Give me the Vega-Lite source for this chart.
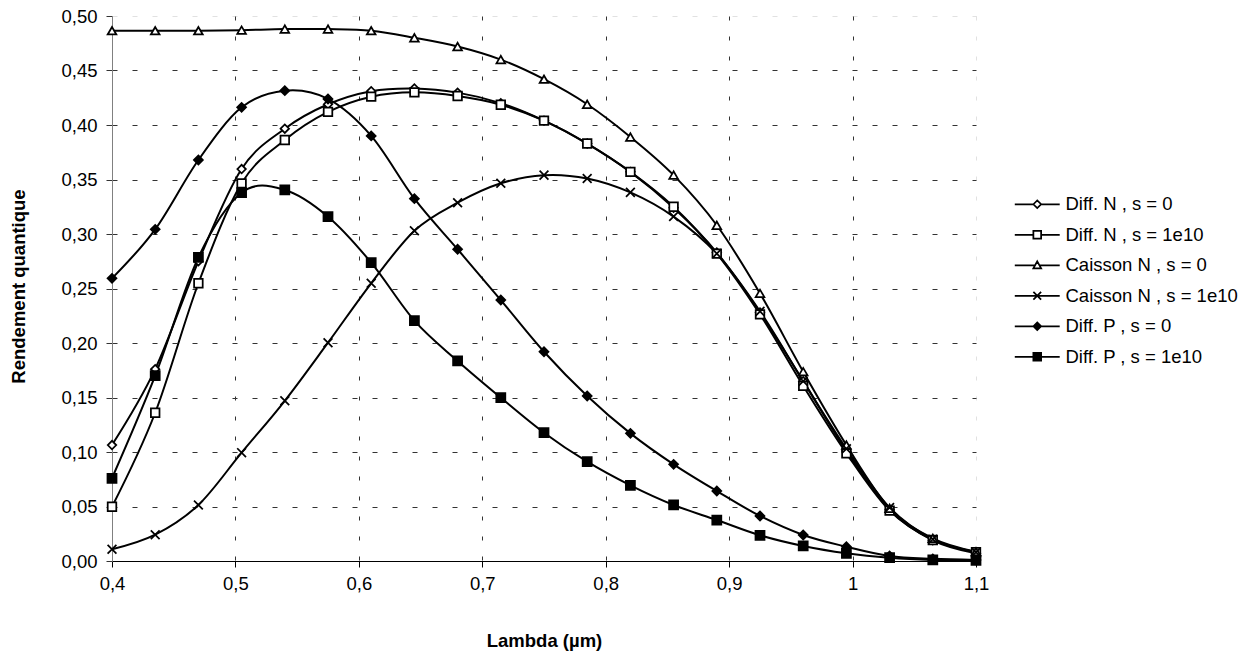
{
  "$schema": "https://vega.github.io/schema/vega-lite/v6.json",
  "width": 864,
  "height": 545,
  "autosize": "none",
  "padding": {"left": 112, "top": 16, "right": 276, "bottom": 93},
  "background": "white",
  "config": {"font": "Liberation Sans", "view": {"stroke": null}},
  "datasets": {
    "rows": [
      {"lambda": 0.4, "series": "Diff. N , s = 0", "value": 0.1064},
      {"lambda": 0.435, "series": "Diff. N , s = 0", "value": 0.176},
      {"lambda": 0.47, "series": "Diff. N , s = 0", "value": 0.275},
      {"lambda": 0.505, "series": "Diff. N , s = 0", "value": 0.3596},
      {"lambda": 0.54, "series": "Diff. N , s = 0", "value": 0.3966},
      {"lambda": 0.575, "series": "Diff. N , s = 0", "value": 0.419},
      {"lambda": 0.61, "series": "Diff. N , s = 0", "value": 0.431},
      {"lambda": 0.645, "series": "Diff. N , s = 0", "value": 0.4335},
      {"lambda": 0.68, "series": "Diff. N , s = 0", "value": 0.4297},
      {"lambda": 0.715, "series": "Diff. N , s = 0", "value": 0.42},
      {"lambda": 0.75, "series": "Diff. N , s = 0", "value": 0.404},
      {"lambda": 0.785, "series": "Diff. N , s = 0", "value": 0.383},
      {"lambda": 0.82, "series": "Diff. N , s = 0", "value": 0.357},
      {"lambda": 0.855, "series": "Diff. N , s = 0", "value": 0.324},
      {"lambda": 0.89, "series": "Diff. N , s = 0", "value": 0.283},
      {"lambda": 0.925, "series": "Diff. N , s = 0", "value": 0.228},
      {"lambda": 0.96, "series": "Diff. N , s = 0", "value": 0.165},
      {"lambda": 0.995, "series": "Diff. N , s = 0", "value": 0.101},
      {"lambda": 1.03, "series": "Diff. N , s = 0", "value": 0.047},
      {"lambda": 1.065, "series": "Diff. N , s = 0", "value": 0.019},
      {"lambda": 1.1, "series": "Diff. N , s = 0", "value": 0.007},

      {"lambda": 0.4, "series": "Diff. N , s = 1e10", "value": 0.0498},
      {"lambda": 0.435, "series": "Diff. N , s = 1e10", "value": 0.136},
      {"lambda": 0.47, "series": "Diff. N , s = 1e10", "value": 0.2548},
      {"lambda": 0.505, "series": "Diff. N , s = 1e10", "value": 0.3465},
      {"lambda": 0.54, "series": "Diff. N , s = 1e10", "value": 0.3862},
      {"lambda": 0.575, "series": "Diff. N , s = 1e10", "value": 0.412},
      {"lambda": 0.61, "series": "Diff. N , s = 1e10", "value": 0.426},
      {"lambda": 0.645, "series": "Diff. N , s = 1e10", "value": 0.43},
      {"lambda": 0.68, "series": "Diff. N , s = 1e10", "value": 0.4266},
      {"lambda": 0.715, "series": "Diff. N , s = 1e10", "value": 0.4186},
      {"lambda": 0.75, "series": "Diff. N , s = 1e10", "value": 0.404},
      {"lambda": 0.785, "series": "Diff. N , s = 1e10", "value": 0.383},
      {"lambda": 0.82, "series": "Diff. N , s = 1e10", "value": 0.357},
      {"lambda": 0.855, "series": "Diff. N , s = 1e10", "value": 0.325},
      {"lambda": 0.89, "series": "Diff. N , s = 1e10", "value": 0.282},
      {"lambda": 0.925, "series": "Diff. N , s = 1e10", "value": 0.2263},
      {"lambda": 0.96, "series": "Diff. N , s = 1e10", "value": 0.1606},
      {"lambda": 0.995, "series": "Diff. N , s = 1e10", "value": 0.0988},
      {"lambda": 1.03, "series": "Diff. N , s = 1e10", "value": 0.0462},
      {"lambda": 1.065, "series": "Diff. N , s = 1e10", "value": 0.0193},
      {"lambda": 1.1, "series": "Diff. N , s = 1e10", "value": 0.008},

      {"lambda": 0.4, "series": "Caisson N , s = 0", "value": 0.4865},
      {"lambda": 0.435, "series": "Caisson N , s = 0", "value": 0.4865},
      {"lambda": 0.47, "series": "Caisson N , s = 0", "value": 0.4865},
      {"lambda": 0.505, "series": "Caisson N , s = 0", "value": 0.487},
      {"lambda": 0.54, "series": "Caisson N , s = 0", "value": 0.488},
      {"lambda": 0.575, "series": "Caisson N , s = 0", "value": 0.488},
      {"lambda": 0.61, "series": "Caisson N , s = 0", "value": 0.4865},
      {"lambda": 0.645, "series": "Caisson N , s = 0", "value": 0.48},
      {"lambda": 0.68, "series": "Caisson N , s = 0", "value": 0.472},
      {"lambda": 0.715, "series": "Caisson N , s = 0", "value": 0.46},
      {"lambda": 0.75, "series": "Caisson N , s = 0", "value": 0.442},
      {"lambda": 0.785, "series": "Caisson N , s = 0", "value": 0.419},
      {"lambda": 0.82, "series": "Caisson N , s = 0", "value": 0.389},
      {"lambda": 0.855, "series": "Caisson N , s = 0", "value": 0.354},
      {"lambda": 0.89, "series": "Caisson N , s = 0", "value": 0.308},
      {"lambda": 0.925, "series": "Caisson N , s = 0", "value": 0.2455},
      {"lambda": 0.96, "series": "Caisson N , s = 0", "value": 0.1737},
      {"lambda": 0.995, "series": "Caisson N , s = 0", "value": 0.1064},
      {"lambda": 1.03, "series": "Caisson N , s = 0", "value": 0.0483},
      {"lambda": 1.065, "series": "Caisson N , s = 0", "value": 0.0208},
      {"lambda": 1.1, "series": "Caisson N , s = 0", "value": 0.0085},

      {"lambda": 0.4, "series": "Caisson N , s = 1e10", "value": 0.0107},
      {"lambda": 0.435, "series": "Caisson N , s = 1e10", "value": 0.0241},
      {"lambda": 0.47, "series": "Caisson N , s = 1e10", "value": 0.0514},
      {"lambda": 0.505, "series": "Caisson N , s = 1e10", "value": 0.0994},
      {"lambda": 0.54, "series": "Caisson N , s = 1e10", "value": 0.147},
      {"lambda": 0.575, "series": "Caisson N , s = 1e10", "value": 0.2003},
      {"lambda": 0.61, "series": "Caisson N , s = 1e10", "value": 0.2548},
      {"lambda": 0.645, "series": "Caisson N , s = 1e10", "value": 0.303},
      {"lambda": 0.68, "series": "Caisson N , s = 1e10", "value": 0.3287},
      {"lambda": 0.715, "series": "Caisson N , s = 1e10", "value": 0.3465},
      {"lambda": 0.75, "series": "Caisson N , s = 1e10", "value": 0.354},
      {"lambda": 0.785, "series": "Caisson N , s = 1e10", "value": 0.351},
      {"lambda": 0.82, "series": "Caisson N , s = 1e10", "value": 0.3382},
      {"lambda": 0.855, "series": "Caisson N , s = 1e10", "value": 0.316},
      {"lambda": 0.89, "series": "Caisson N , s = 1e10", "value": 0.282},
      {"lambda": 0.925, "series": "Caisson N , s = 1e10", "value": 0.229},
      {"lambda": 0.96, "series": "Caisson N , s = 1e10", "value": 0.165},
      {"lambda": 0.995, "series": "Caisson N , s = 1e10", "value": 0.103},
      {"lambda": 1.03, "series": "Caisson N , s = 1e10", "value": 0.049},
      {"lambda": 1.065, "series": "Caisson N , s = 1e10", "value": 0.02},
      {"lambda": 1.1, "series": "Caisson N , s = 1e10", "value": 0.008},

      {"lambda": 0.4, "series": "Diff. P , s = 0", "value": 0.2593},
      {"lambda": 0.435, "series": "Diff. P , s = 0", "value": 0.3043},
      {"lambda": 0.47, "series": "Diff. P , s = 0", "value": 0.3679},
      {"lambda": 0.505, "series": "Diff. P , s = 0", "value": 0.4162},
      {"lambda": 0.54, "series": "Diff. P , s = 0", "value": 0.4315},
      {"lambda": 0.575, "series": "Diff. P , s = 0", "value": 0.4239},
      {"lambda": 0.61, "series": "Diff. P , s = 0", "value": 0.39},
      {"lambda": 0.645, "series": "Diff. P , s = 0", "value": 0.3324},
      {"lambda": 0.68, "series": "Diff. P , s = 0", "value": 0.286},
      {"lambda": 0.715, "series": "Diff. P , s = 0", "value": 0.2394},
      {"lambda": 0.75, "series": "Diff. P , s = 0", "value": 0.192},
      {"lambda": 0.785, "series": "Diff. P , s = 0", "value": 0.1514},
      {"lambda": 0.82, "series": "Diff. P , s = 0", "value": 0.1171},
      {"lambda": 0.855, "series": "Diff. P , s = 0", "value": 0.0887},
      {"lambda": 0.89, "series": "Diff. P , s = 0", "value": 0.0642},
      {"lambda": 0.925, "series": "Diff. P , s = 0", "value": 0.0413},
      {"lambda": 0.96, "series": "Diff. P , s = 0", "value": 0.0239},
      {"lambda": 0.995, "series": "Diff. P , s = 0", "value": 0.0131},
      {"lambda": 1.03, "series": "Diff. P , s = 0", "value": 0.0046},
      {"lambda": 1.065, "series": "Diff. P , s = 0", "value": 0.002},
      {"lambda": 1.1, "series": "Diff. P , s = 0", "value": 0.001},

      {"lambda": 0.4, "series": "Diff. P , s = 1e10", "value": 0.0759},
      {"lambda": 0.435, "series": "Diff. P , s = 1e10", "value": 0.17},
      {"lambda": 0.47, "series": "Diff. P , s = 1e10", "value": 0.2786},
      {"lambda": 0.505, "series": "Diff. P , s = 1e10", "value": 0.3379},
      {"lambda": 0.54, "series": "Diff. P , s = 1e10", "value": 0.3404},
      {"lambda": 0.575, "series": "Diff. P , s = 1e10", "value": 0.3159},
      {"lambda": 0.61, "series": "Diff. P , s = 1e10", "value": 0.2737},
      {"lambda": 0.645, "series": "Diff. P , s = 1e10", "value": 0.2205},
      {"lambda": 0.68, "series": "Diff. P , s = 1e10", "value": 0.1835},
      {"lambda": 0.715, "series": "Diff. P , s = 1e10", "value": 0.1498},
      {"lambda": 0.75, "series": "Diff. P , s = 1e10", "value": 0.1177},
      {"lambda": 0.785, "series": "Diff. P , s = 1e10", "value": 0.0911},
      {"lambda": 0.82, "series": "Diff. P , s = 1e10", "value": 0.0694},
      {"lambda": 0.855, "series": "Diff. P , s = 1e10", "value": 0.0514},
      {"lambda": 0.89, "series": "Diff. P , s = 1e10", "value": 0.0376},
      {"lambda": 0.925, "series": "Diff. P , s = 1e10", "value": 0.0236},
      {"lambda": 0.96, "series": "Diff. P , s = 1e10", "value": 0.0138},
      {"lambda": 0.995, "series": "Diff. P , s = 1e10", "value": 0.0071},
      {"lambda": 1.03, "series": "Diff. P , s = 1e10", "value": 0.003},
      {"lambda": 1.065, "series": "Diff. P , s = 1e10", "value": 0.001},
      {"lambda": 1.1, "series": "Diff. P , s = 1e10", "value": 0.0005}
    ]
  },
  "data": {"name": "rows"},
  "encoding": {
    "x": {
      "field": "lambda",
      "type": "quantitative",
      "scale": {"domain": [0.4, 1.1], "nice": false, "zero": false},
      "axis": {
        "values": [0.4, 0.5, 0.6, 0.7, 0.8, 0.9, 1.0, 1.1],
        "labelExpr": "replace(format(datum.value, '.1~f'), '.', ',')",
        "title": "Lambda (µm)",
        "grid": true,
        "gridDash": [4, 16],
        "gridColor": "#333333",
        "gridWidth": 1,
        "gridOpacity": {"condition": {"test": "datum.value > 1.05 || datum.value < 0.45", "value": 0.15}, "value": 1},
        "domainColor": "black",
        "domainWidth": 1,
        "tickColor": "black",
        "tickSize": 6,
        "labelFontSize": 18.5,
        "labelColor": "black",
        "labelPadding": 7,
        "labelFlush": false,
        "titleFontSize": 18.5,
        "titleFontWeight": "bold",
        "titleColor": "black",
        "titleY": 79,
        "titleBaseline": "middle"
      }
    },
    "y": {
      "field": "value",
      "type": "quantitative",
      "scale": {"domain": [0, 0.5], "nice": false},
      "axis": {
        "values": [0, 0.05, 0.1, 0.15, 0.2, 0.25, 0.3, 0.35, 0.4, 0.45, 0.5],
        "labelExpr": "replace(format(datum.value, '.2f'), '.', ',')",
        "title": "Rendement quantique",
        "grid": true,
        "gridDash": [5, 15],
        "gridColor": "#333333",
        "gridWidth": 1,
        "gridOpacity": {"condition": {"test": "datum.value > 0.49 || datum.value < 0.01", "value": 0.15}, "value": 1},
        "domainColor": "#808080",
        "domainWidth": 1,
        "tickColor": "#333333",
        "tickSize": 6,
        "labelFontSize": 18.5,
        "labelColor": "black",
        "labelPadding": 9,
        "titleFontSize": 18.5,
        "titleFontWeight": "bold",
        "titleColor": "black",
        "titleX": -94,
        "titleY": 270,
        "titleAngle": 270,
        "titleAlign": "center",
        "titleBaseline": "middle"
      }
    }
  },
  "layer": [
    {
      "mark": {"type": "line", "interpolate": "cardinal", "color": "black", "strokeWidth": 2},
      "encoding": {"detail": {"field": "series", "type": "nominal"}}
    },
    {
      "mark": {"type": "point", "filled": true, "stroke": "black", "strokeWidth": 1.75, "opacity": 1},
      "encoding": {
        "fill": {
          "field": "series",
          "type": "nominal",
          "scale": {
            "domain": ["Diff. N , s = 0", "Diff. N , s = 1e10", "Caisson N , s = 0", "Caisson N , s = 1e10", "Diff. P , s = 0", "Diff. P , s = 1e10"],
            "range": ["white", "white", "white", "white", "black", "black"]
          },
          "legend": null
        },
        "shape": {
          "field": "series",
          "type": "nominal",
          "scale": {
            "domain": ["Diff. N , s = 0", "Diff. N , s = 1e10", "Caisson N , s = 0", "Caisson N , s = 1e10", "Diff. P , s = 0", "Diff. P , s = 1e10"],
            "range": ["diamond", "square", "triangle-up", "M-1,-1L1,1M1,-1L-1,1", "diamond", "square"]
          },
          "legend": null
        },
        "size": {
          "field": "series",
          "type": "nominal",
          "scale": {
            "domain": ["Diff. N , s = 0", "Diff. N , s = 1e10", "Caisson N , s = 0", "Caisson N , s = 1e10", "Diff. P , s = 0", "Diff. P , s = 1e10"],
            "range": [72, 81, 100, 110, 90, 121]
          },
          "legend": null
        }
      }
    },
    {
      "transform": [{"filter": "datum.lambda > 5"}],
      "mark": {"type": "point", "filled": true, "stroke": "black", "strokeWidth": 1.75, "opacity": 1, "size": 60},
      "encoding": {
        "fill": {
          "field": "series",
          "type": "nominal",
          "scale": {
            "domain": ["Diff. N , s = 0", "Diff. N , s = 1e10", "Caisson N , s = 0", "Caisson N , s = 1e10", "Diff. P , s = 0", "Diff. P , s = 1e10"],
            "range": ["white", "white", "white", "white", "black", "black"]
          },
          "legend": {
            "title": null,
            "orient": "none",
            "legendX": 916,
            "legendY": 179,
            "padding": 0,
            "labelFontSize": 18.5,
            "labelColor": "black",
            "labelOffset": 19,
            "labelLimit": 400,
            "rowPadding": 11.5,
            "symbolSize": 60,
            "symbolOpacity": 1,
            "symbolStrokeWidth": 1.75
          }
        },
        "shape": {
          "field": "series",
          "type": "nominal",
          "scale": {
            "domain": ["Diff. N , s = 0", "Diff. N , s = 1e10", "Caisson N , s = 0", "Caisson N , s = 1e10", "Diff. P , s = 0", "Diff. P , s = 1e10"],
            "range": [
              "M-5.8,0L-1,0M1,0L5.8,0M-1,0L0,-1L1,0L0,1Z",
              "M-5.8,0L-1,0M1,0L5.8,0M-1,-1L1,-1L1,1L-1,1Z",
              "M-5.8,0L-0.55,0M0.55,0L5.8,0M0,-1L1,0.8L-1,0.8Z",
              "M-5.8,0L5.8,0M-1,-1L1,1M1,-1L-1,1",
              "M-5.8,0L5.8,0M-1,0L0,-1L1,0L0,1Z",
              "M-5.8,0L5.8,0M-1,-1L1,-1L1,1L-1,1Z"
            ]
          },
          "legend": {
            "title": null,
            "orient": "none",
            "legendX": 916,
            "legendY": 179,
            "padding": 0,
            "labelFontSize": 18.5,
            "labelColor": "black",
            "labelOffset": 19,
            "labelLimit": 400,
            "rowPadding": 11.5,
            "symbolSize": 60,
            "symbolOpacity": 1,
            "symbolStrokeWidth": 1.75
          }
        }
      }
    }
  ],
  "resolve": {
    "scale": {"shape": "independent", "fill": "independent", "size": "independent"},
    "legend": {"shape": "independent", "fill": "independent", "size": "independent"}
  }
}
